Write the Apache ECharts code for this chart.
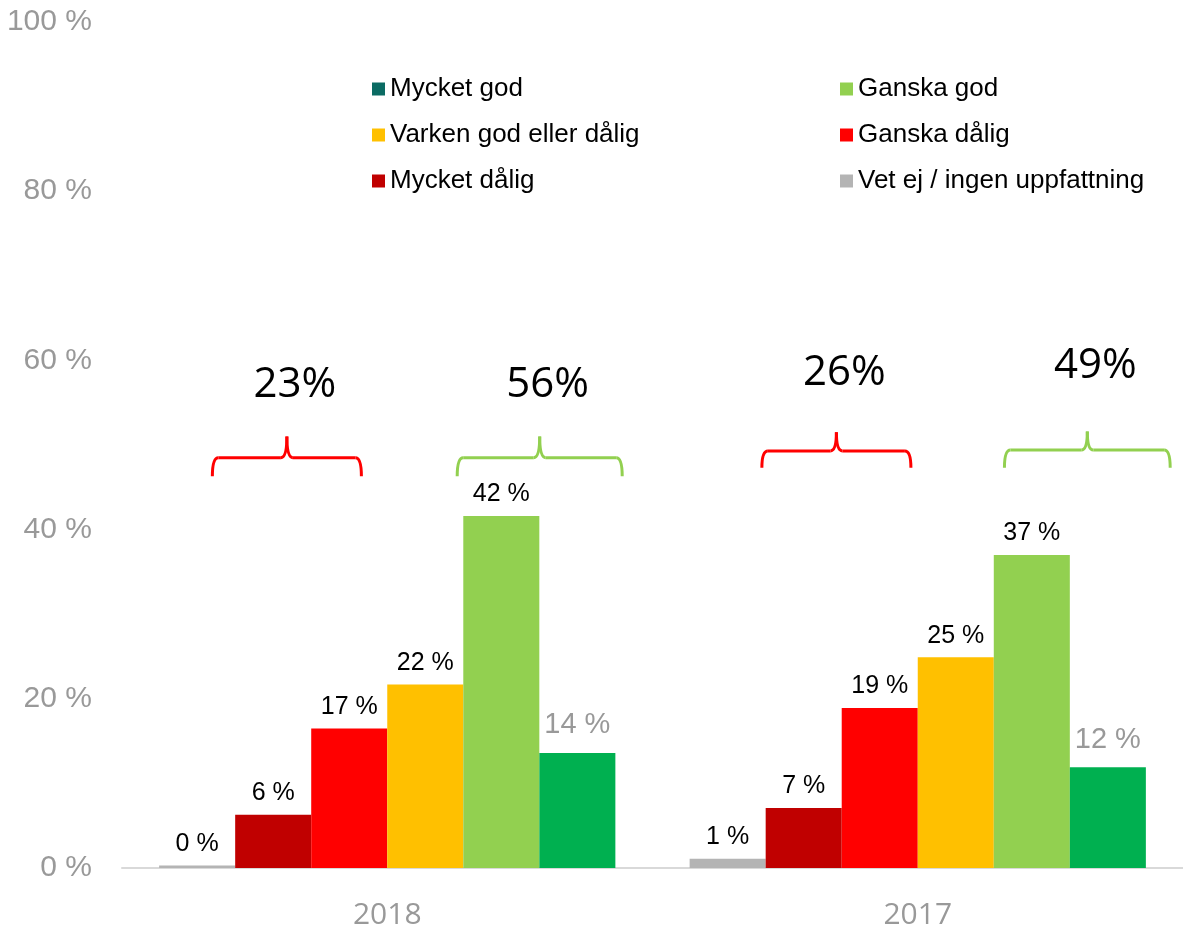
<!DOCTYPE html>
<html>
<head>
<meta charset="utf-8">
<script src="https://cdn.jsdelivr.net/npm/echarts@6/dist/echarts.min.js"></script>
<style>
  html, body { margin: 0; padding: 0; background: #fff; }
  #chart { width: 1183px; height: 936px; }
</style>
</head>
<body>
<div id="chart"></div>
<script>
// categories and values (percent)
const categories = ['2018', '2017'];
const vetEj = [0.3, 1.1];
const mycketDalig = [6.3, 7.1];
const ganskaDalig = [16.5, 18.9];
const varken = [21.7, 24.9];
const ganskaGod = [41.6, 37.0];
const mycketGod = [13.6, 11.9];
const yTicks = [0, 20, 40, 60, 80, 100];

// brackets: category, bar slot range, levels (in % units), label
const brackets = [
  { cat: 0, from: 0.70, to: 2.66, level: 48.5, end: 46.3, tip: 51.0, textAt: 57.1, text: '23%', color: '#FF0000' },
  { cat: 0, from: 3.92, to: 6.09, level: 48.5, end: 46.3, tip: 51.0, textAt: 57.1, text: '56%', color: '#92D050' },
  { cat: 1, from: 0.95, to: 2.91, level: 49.3, end: 47.3, tip: 51.5, textAt: 58.5, text: '26%', color: '#FF0000' },
  { cat: 1, from: 4.14, to: 6.32, level: 49.4, end: 47.3, tip: 51.6, textAt: 59.3, text: '49%', color: '#92D050' }
];

const barCatGap = 0.14;
const chart = echarts.init(document.getElementById('chart'));

const blackLabel = {
  show: true,
  position: 'top',
  distance: 9,
  color: '#000',
  fontFamily: 'Liberation Sans, Arial, sans-serif',
  fontSize: 25,
  formatter: (p) => Math.round(p.value) + ' %'
};

function bar(name, data, color, label) {
  return {
    name: name,
    type: 'bar',
    data: data,
    barGap: '0%',
    barCategoryGap: (barCatGap * 100) + '%',
    itemStyle: { color: color },
    label: label || blackLabel,
    emphasis: { disabled: true }
  };
}

const legendText = {
  fontFamily: 'Liberation Sans, Arial, sans-serif',
  fontSize: 26,
  color: '#000',
  lineHeight: 26
};

const option = {
  animation: false,
  grid: { left: 122, right: 0, top: 22, bottom: 68 },
  legend: [
    {
      orient: 'vertical',
      left: 367,
      top: 71,
      itemGap: 20,
      itemWidth: 13,
      itemHeight: 13,
      icon: 'rect',
      textStyle: legendText,
      data: [
        { name: 'Mycket god', itemStyle: { color: '#0B6B63' } },
        'Varken god eller dålig',
        'Mycket dålig'
      ]
    },
    {
      orient: 'vertical',
      left: 835,
      top: 71,
      itemGap: 20,
      itemWidth: 13,
      itemHeight: 13,
      icon: 'rect',
      textStyle: legendText,
      data: ['Ganska god', 'Ganska dålig', 'Vet ej / ingen uppfattning']
    }
  ],
  xAxis: {
    type: 'category',
    data: categories,
    axisLine: { lineStyle: { color: '#D9D9D9', width: 2 } },
    axisTick: { show: false },
    axisLabel: {
      color: '#999999',
      fontFamily: 'Open Sans, sans-serif',
      fontSize: 30,
      margin: 32
    }
  },
  yAxis: {
    type: 'value',
    min: yTicks[0],
    max: yTicks[yTicks.length - 1],
    interval: yTicks[1] - yTicks[0],
    splitLine: { show: false },
    axisLine: { show: false },
    axisLabel: {
      color: '#999999',
      fontFamily: 'Liberation Sans, Arial, sans-serif',
      fontSize: 30,
      margin: 30,
      formatter: (v) => v + ' %'
    }
  },
  series: [
    bar('Vet ej / ingen uppfattning', vetEj, '#B4B4B4'),
    bar('Mycket dålig', mycketDalig, '#C00000'),
    bar('Ganska dålig', ganskaDalig, '#FF0000'),
    bar('Varken god eller dålig', varken, '#FFC000'),
    bar('Ganska god', ganskaGod, '#92D050'),
    bar('Mycket god', mycketGod, '#00B050', Object.assign({}, blackLabel, {
      color: '#999999', fontSize: 29, distance: 13
    }))
  ]
};

chart.setOption(option);

function curve(x1, y1, cx, cy, x2, y2, color) {
  return {
    type: 'bezierCurve',
    shape: { x1: x1, y1: y1, cpx1: cx, cpy1: cy, x2: x2, y2: y2 },
    style: { stroke: color, lineWidth: 3, fill: null },
    silent: true
  };
}

function line(x1, y1, x2, y2, color) {
  return {
    type: 'line',
    shape: { x1: x1, y1: y1, x2: x2, y2: y2 },
    style: { stroke: color, lineWidth: 3 },
    silent: true
  };
}

function drawBrackets() {
  const c0 = chart.convertToPixel({ xAxisIndex: 0 }, categories[0]);
  const c1 = chart.convertToPixel({ xAxisIndex: 0 }, categories[1]);
  const catW = c1 - c0;
  const barW = catW * (1 - barCatGap) / 6;
  const yPx = (v) => chart.convertToPixel({ yAxisIndex: 0 }, v);
  const elements = [];
  brackets.forEach((b) => {
    const center = chart.convertToPixel({ xAxisIndex: 0 }, categories[b.cat]);
    const left = center - 3 * barW;
    const x0 = left + b.from * barW;
    const x1 = left + b.to * barW;
    const xm = (x0 + x1) / 2;
    const yh = yPx(b.level), ye = yPx(b.end), yt = yPx(b.tip);
    const r = 6, c = 6;
    elements.push(curve(x0, ye, x0, yh, x0 + r, yh, b.color));
    elements.push(line(x0 + r, yh, xm - c, yh, b.color));
    elements.push(curve(xm - c, yh, xm, yh, xm, yt, b.color));
    elements.push(curve(xm, yt, xm, yh, xm + c, yh, b.color));
    elements.push(line(xm + c, yh, x1 - r, yh, b.color));
    elements.push(curve(x1 - r, yh, x1, yh, x1, ye, b.color));
    elements.push({
      type: 'text',
      x: xm + 8,
      y: yPx(b.textAt),
      style: {
        text: b.text,
        fill: '#000',
        fontSize: 42,
        fontFamily: 'Open Sans, sans-serif',
        align: 'center',
        verticalAlign: 'middle'
      },
      silent: true
    });
  });
  chart.setOption({ graphic: { elements: elements } });
}

drawBrackets();
window.onresize = () => {
  chart.resize();
  drawBrackets();
};
</script>
</body>
</html>
